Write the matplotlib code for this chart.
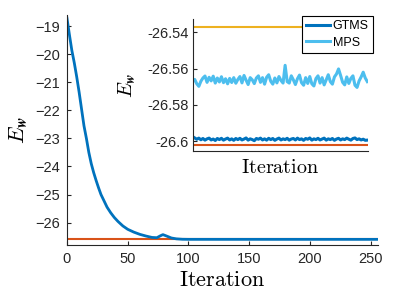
import matplotlib
matplotlib.use('Agg')
import matplotlib.pyplot as plt
import numpy as np

plt.rcParams['font.family'] = ['Liberation Sans', 'DejaVu Sans']
plt.rcParams['mathtext.fontset'] = 'cm'

# main convergence curve (iteration, E_w)
main_iter = [0, 2, 4, 6, 8, 10, 12, 14, 16, 18, 20, 22, 24, 26, 28, 30, 33, 36, 39,
             42, 46, 50, 55, 60, 65, 70, 74, 77, 79, 82, 86, 90, 95, 100, 255]
main_val = [-18.71, -19.30, -19.86, -20.30, -20.80, -21.35, -21.95, -22.55, -23.00,
            -23.50, -23.90, -24.22, -24.50, -24.76, -25.00, -25.18, -25.45, -25.65,
            -25.82, -25.96, -26.12, -26.24, -26.34, -26.42, -26.48, -26.53, -26.54,
            -26.47, -26.43, -26.48, -26.55, -26.58, -26.595, -26.598, -26.599]

ref_x = [0, 255]
orange_y = [-26.602, -26.602]
yellow_y = [-26.5368, -26.5368]

# inset series, one value every 3 iterations
inset_iter = np.arange(0, 256, 3)
mps = [-26.5672, -26.5660, -26.5684, -26.5698, -26.5670, -26.5652, -26.5641, -26.5676,
       -26.5648, -26.5668, -26.5642, -26.5680, -26.5652, -26.5674, -26.5645, -26.5678,
       -26.5656, -26.5684, -26.5654, -26.5677, -26.5650, -26.5681, -26.5660, -26.5644,
       -26.5679, -26.5638, -26.5664, -26.5688, -26.5650, -26.5662, -26.5683, -26.5652,
       -26.5640, -26.5676, -26.5650, -26.5686, -26.5648, -26.5634, -26.5670, -26.5686,
       -26.5652, -26.5679, -26.5644, -26.5666, -26.5680, -26.5582, -26.5672, -26.5680,
       -26.5640, -26.5662, -26.5688, -26.5656, -26.5636, -26.5678, -26.5692, -26.5650,
       -26.5682, -26.5644, -26.5684, -26.5696, -26.5655, -26.5640, -26.5680, -26.5650,
       -26.5690, -26.5662, -26.5634, -26.5672, -26.5686, -26.5646, -26.5630, -26.5602,
       -26.5638, -26.5676, -26.5690, -26.5646, -26.5682, -26.5654, -26.5640, -26.5692,
       -26.5704, -26.5668, -26.5646, -26.5620, -26.5652, -26.5672]
gtms = [-26.5976, -26.5983, -26.5990, -26.5984, -26.5993, -26.5986, -26.5995, -26.5988,
        -26.5984, -26.5994, -26.5989, -26.5997, -26.5986, -26.5992, -26.5985, -26.5995,
        -26.5989, -26.5984, -26.5994, -26.5988, -26.5996, -26.5986, -26.5992, -26.5985,
        -26.5994, -26.5989, -26.5983, -26.5995, -26.5988, -26.5992, -26.5998, -26.5986,
        -26.5990, -26.5984, -26.5994, -26.5988, -26.5995, -26.5985, -26.5992, -26.5986,
        -26.5996, -26.5989, -26.5984, -26.5994, -26.5988, -26.5992, -26.5985, -26.5995,
        -26.5989, -26.5986, -26.5994, -26.5984, -26.5992, -26.5988, -26.5996, -26.5986,
        -26.5990, -26.5983, -26.5995, -26.5988, -26.5992, -26.5985, -26.5994, -26.5989,
        -26.5984, -26.5995, -26.5988, -26.5992, -26.5986, -26.5996, -26.5989, -26.5985,
        -26.5994, -26.5988, -26.5992, -26.5984, -26.5990, -26.5995, -26.5986, -26.5983,
        -26.5992, -26.5988, -26.5994, -26.5990, -26.5996, -26.5995]

blue = '#0072BD'
orange = '#D95319'
yellow = '#EDB120'
light = '#4DBEEE'
axcol = '#262626'

fig = plt.figure(figsize=(3.94, 2.99), dpi=100)

ax = fig.add_axes([0.170, 0.1806, 0.789, 0.769])
ax.plot(ref_x, orange_y, color=orange, lw=1.5)
ax.plot(main_iter, main_val, color=blue, lw=2)
ax.set_xlim(0, 256)
ax.set_ylim(-26.8, -18.6)
ax.set_xticks([0, 50, 100, 150, 200, 250])
ax.set_yticks(range(-26, -18))
for s in ['top', 'right']:
    ax.spines[s].set_visible(False)
for s in ['left', 'bottom']:
    ax.spines[s].set_color(axcol)
ax.tick_params(direction='in', length=3, color=axcol, labelsize=10.5, labelcolor=axcol, pad=5)
ax.set_xlabel(r'$\mathrm{Iteration}$', fontsize=16)
ax.set_ylabel(r'$E_{\boldsymbol{w}}$', fontsize=16)
ax.xaxis.set_label_coords(0.5, -0.11)
ax.yaxis.set_label_coords(-0.12, 0.5)

ins = fig.add_axes([0.489, 0.495, 0.445, 0.441])
ins.plot(ref_x, yellow_y, color=yellow, lw=1.5)
ins.plot(ref_x, orange_y, color=orange, lw=1.5)
ins.plot(inset_iter, gtms, color=blue, lw=2.2, label='GTMS')
ins.plot(inset_iter, mps, color=light, lw=2.2, label='MPS')
ins.set_xlim(0, 256)
ins.set_ylim(-26.6055, -26.5327)
ins.set_xticks([])
ins.set_yticks([-26.6, -26.58, -26.56, -26.54])
ins.set_yticklabels(['-26.6', '-26.58', '-26.56', '-26.54'])
for s in ['top', 'right']:
    ins.spines[s].set_visible(False)
for s in ['left', 'bottom']:
    ins.spines[s].set_color(axcol)
ins.tick_params(direction='in', length=3, color=axcol, labelsize=10.5, labelcolor=axcol, pad=3)
ins.set_xlabel(r'$\mathrm{Iteration}$', fontsize=14.5)
ins.set_ylabel(r'$E_{\boldsymbol{w}}$', fontsize=14.5)
ins.xaxis.set_label_coords(0.5, -0.05)
ins.yaxis.set_label_coords(-0.31, 0.5)

leg = ins.legend(loc='upper right', bbox_to_anchor=(373 / 394, 1 - 16 / 299),
                 bbox_transform=fig.transFigure, borderaxespad=0, fontsize=9,
                 fancybox=False, framealpha=1, edgecolor='black', handlelength=1.9,
                 handletextpad=0.2, labelspacing=0.35, borderpad=0.35)
leg.get_frame().set_linewidth(0.8)

fig.savefig('out.png', dpi=100)
